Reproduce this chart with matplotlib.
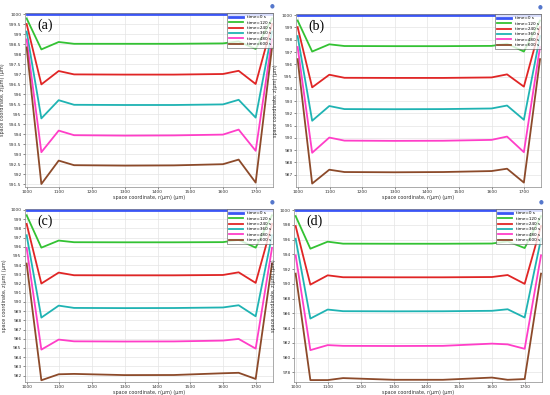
import numpy as np
import matplotlib
matplotlib.use('Agg')
import matplotlib.pyplot as plt

# mesh points along r (um)
r = [1000, 1045, 1098, 1145, 1300, 1450, 1600, 1648, 1700, 1750]
times = ['time=0 s', 'time=120 s', 'time=240 s', 'time=360 s', 'time=480 s', 'time=600 s']
colors = ['#3a55f5', '#33c233', '#e02525', '#1fb3b3', '#ff3ec8', '#8c4a2a']

# z (um) for each time, panel (a)
za = [
    [1000]*10,
    [999.78, 998.23, 998.60, 998.51, 998.51, 998.51, 998.53, 998.63, 998.25, 999.78],
    [999.50, 996.48, 997.15, 996.98, 996.97, 996.97, 997.00, 997.16, 996.50, 999.50],
    [999.12, 994.78, 995.69, 995.46, 995.45, 995.45, 995.48, 995.71, 994.82, 999.12],
    [998.73, 993.09, 994.17, 993.94, 993.92, 993.93, 993.97, 994.22, 993.16, 998.73],
    [998.33, 991.50, 992.67, 992.44, 992.42, 992.43, 992.49, 992.72, 991.57, 998.33],
]
zb = [
    [1000]*10,
    [999.57, 997.04, 997.63, 997.49, 997.48, 997.48, 997.50, 997.68, 997.04, 999.57],
    [999.03, 994.12, 995.15, 994.90, 994.89, 994.89, 994.93, 995.18, 994.18, 999.03],
    [998.30, 991.40, 992.60, 992.35, 992.34, 992.35, 992.40, 992.64, 991.48, 998.30],
    [997.41, 988.79, 990.03, 989.78, 989.76, 989.77, 989.84, 990.11, 988.84, 997.41],
    [996.42, 986.28, 987.41, 987.22, 987.20, 987.22, 987.30, 987.49, 986.36, 996.42],
]
zc = [
    [1000]*10,
    [999.42, 995.90, 996.67, 996.49, 996.48, 996.48, 996.50, 996.74, 995.90, 999.42],
    [998.48, 992.00, 993.19, 992.90, 992.89, 992.89, 992.93, 993.22, 992.07, 998.48],
    [997.25, 988.30, 989.60, 989.35, 989.33, 989.34, 989.40, 989.64, 988.44, 997.25],
    [995.87, 984.82, 985.91, 985.72, 985.70, 985.71, 985.80, 985.98, 984.93, 995.87],
    [994.17, 981.49, 982.14, 982.18, 982.05, 982.06, 982.25, 982.30, 981.63, 994.17],
]
zd = [
    [1000]*10,
    [999.19, 994.77, 995.72, 995.45, 995.44, 995.44, 995.47, 995.76, 994.86, 999.19],
    [997.84, 989.90, 991.16, 990.90, 990.89, 990.89, 990.93, 991.20, 990.00, 997.84],
    [996.12, 985.30, 986.52, 986.30, 986.28, 986.29, 986.35, 986.56, 985.44, 996.12],
    [993.87, 981.02, 981.70, 981.60, 981.58, 981.60, 981.90, 981.80, 981.20, 993.87],
    [991.39, 976.96, 976.96, 977.23, 977.00, 977.00, 977.30, 977.00, 977.10, 991.39],
]

panels = [
    ('(a)', za, (991.35, 1000.05), np.arange(991.5, 1000.01, 0.5)),
    ('(b)', zb, (986.0, 1000.1), np.arange(987, 1000.1, 1)),
    ('(c)', zc, (981.3, 1000.1), np.arange(982, 1000.1, 1)),
    ('(d)', zd, (976.7, 1000.15), np.arange(978, 1000.1, 2)),
]

# axes boxes in pixels: left, top, right, bottom
boxes = [(25, 13, 273, 187), (296, 14, 541, 187), (25, 209, 273, 382), (294, 209, 542, 382)]
W, H = 550, 395

fig = plt.figure(figsize=(5.5, 3.95), dpi=100)
for (lab, z, ylim, yt), (l, t, rr, b) in zip(panels, boxes):
    ax = fig.add_axes([l/W, 1-b/H, (rr-l)/W, (b-t)/H])
    for i in range(len(times)):
        ax.plot(r, z[i], color=colors[i], lw=1.3 if i else 2.0, label=times[i])
    ax.set_xlim(995, 1753)
    ax.set_ylim(*ylim)
    ax.set_xticks(range(1000, 1701, 100))
    ax.set_yticks(yt)
    if lab == '(a)':
        ax.set_yticklabels(['%g' % v for v in yt])
    ax.grid(True, color='#e4e4e4', lw=0.5)
    ax.tick_params(labelsize=3.2, length=1.5, width=0.4, pad=1, colors='#333333')
    for s in ax.spines.values():
        s.set_linewidth(0.5)
        s.set_color('#888888')
    ax.set_xlabel('space coordinate, r(\u00b5m) (\u00b5m)', fontsize=3.5, labelpad=0.5, color='#333333')
    ax.set_ylabel('space coordinate, z(\u00b5m) (\u00b5m)', fontsize=3.5, labelpad=2.5, color='#333333')
    ax.text(0.05, 0.93, lab, transform=ax.transAxes, fontsize=10, family='Liberation Serif', va='center')
    leg = ax.legend(loc='upper right', fontsize=3, frameon=True, fancybox=False,
                    borderpad=0.4, labelspacing=0.35, handlelength=3.5, borderaxespad=0.1)
    leg.get_frame().set_edgecolor('#555555')
    leg.get_frame().set_linewidth(0.5)
    # small icon at top right
    fig.text((rr-1)/W, 1-(t-7)/H, '\u25cf', fontsize=4, color='#5577cc', ha='center', va='center')

fig.savefig('out.png', dpi=100)
